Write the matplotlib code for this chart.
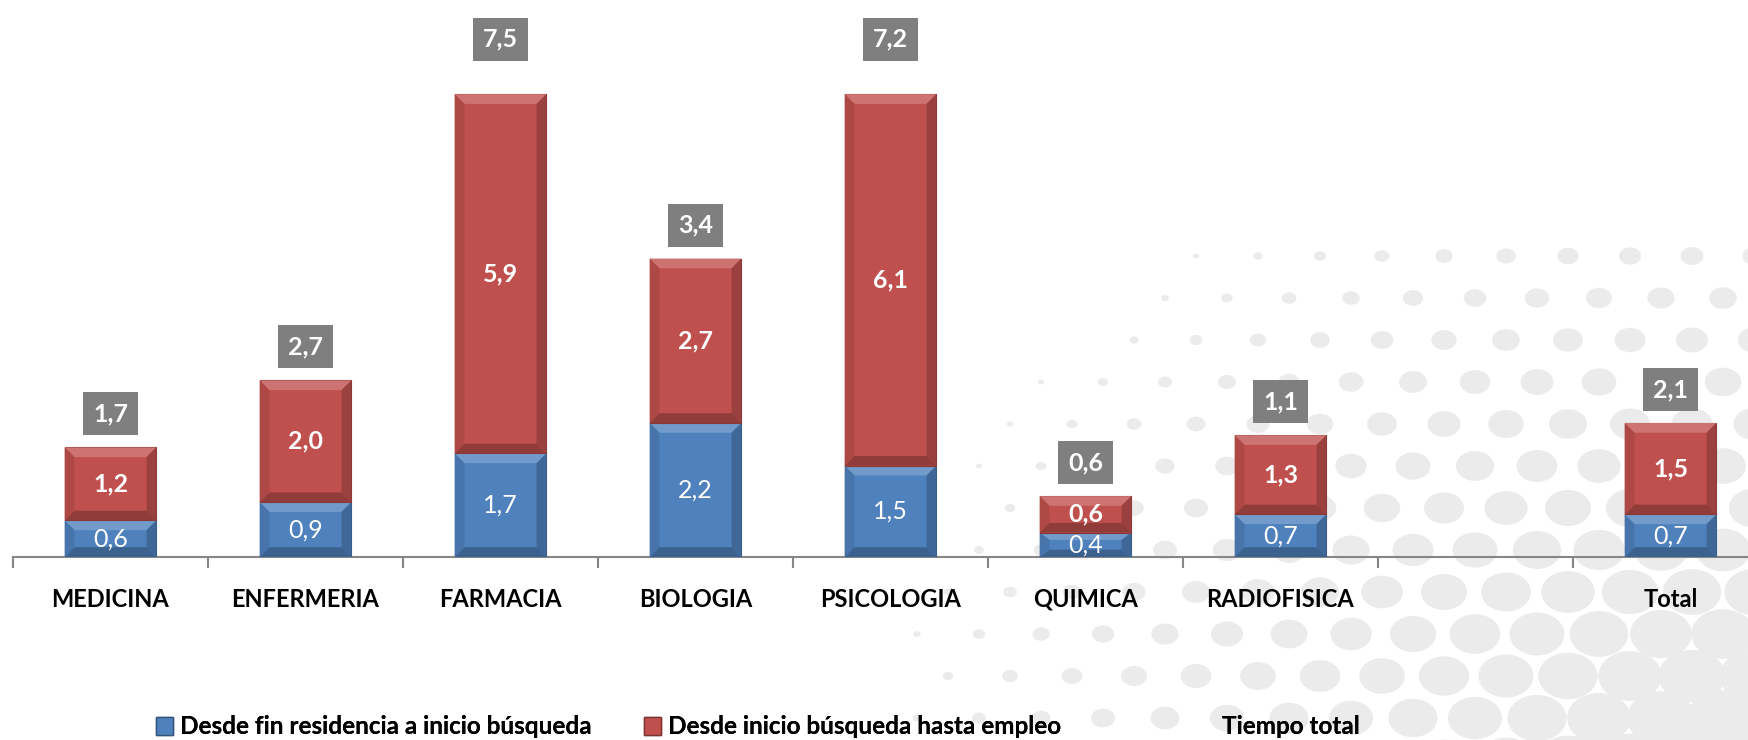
"""Stacked bars: tiempo hasta empleo por especialidad."""

import numpy as np
import matplotlib.pyplot as plt
from matplotlib.patches import Polygon, Rectangle, Ellipse, Patch
from matplotlib import colors as mcolors

plt.rcParams['font.family'] = ['Lato', 'DejaVu Sans']

categorias = ['MEDICINA', 'ENFERMERIA', 'FARMACIA', 'BIOLOGIA', 'PSICOLOGIA',
              'QUIMICA', 'RADIOFISICA', '', 'Total']
fin_residencia = [0.6, 0.9, 1.7, 2.2, 1.5, 0.4, 0.7, np.nan, 0.7]
inicio_busqueda = [1.2, 2.0, 5.9, 2.7, 6.1, 0.6, 1.3, np.nan, 1.5]
tiempo_total = [1.7, 2.7, 7.5, 3.4, 7.2, 0.6, 1.1, np.nan, 2.1]

series_names = ['Desde fin residencia a inicio búsqueda',
                'Desde inicio búsqueda hasta empleo',
                'Tiempo total']

BLUE = '#4f81bd'
RED = '#c0504d'
GREY = '#7f7f7f'


def shade(color, f):
    c = np.array(mcolors.to_rgb(color))
    if f > 0:
        return tuple(c + (1 - c) * f)
    return tuple(c * (1 + f))


def bevel_bar(ax, x, bottom, height, width, color):
    """Draw one bar segment with a simple bevelled look."""
    x0, x1 = x - width / 2, x + width / 2
    y0, y1 = bottom, bottom + height
    dx, dy = 0.05, min(0.16, height * 0.3)
    ax.add_patch(Rectangle((x0, y0), width, height, facecolor=color,
                           edgecolor=shade(color, -0.3), lw=0.8, zorder=3))
    ax.add_patch(Polygon([(x0, y1), (x1, y1), (x1 - dx, y1 - dy),
                          (x0 + dx, y1 - dy)], closed=True,
                         facecolor=shade(color, 0.2), lw=0, zorder=3))
    ax.add_patch(Polygon([(x0, y0), (x1, y0), (x1 - dx, y0 + dy),
                          (x0 + dx, y0 + dy)], closed=True,
                         facecolor=shade(color, -0.25), lw=0, zorder=3))
    ax.add_patch(Polygon([(x0, y0), (x0, y1), (x0 + dx, y1 - dy),
                          (x0 + dx, y0 + dy)], closed=True,
                         facecolor=shade(color, -0.1), lw=0, zorder=3))
    ax.add_patch(Polygon([(x1, y0), (x1, y1), (x1 - dx, y1 - dy),
                          (x1 - dx, y0 + dy)], closed=True,
                         facecolor=shade(color, -0.2), lw=0, zorder=3))


W, H = 1748, 740
fig = plt.figure(figsize=(W / 100, H / 100), dpi=100)
fig.patch.set_facecolor('white')

# decorative halftone dots in the lower right corner, on a background axes
bg = fig.add_axes([0, 0, 1, 1], zorder=-1)
bg.set_xlim(0, W)
bg.set_ylim(H, 0)
bg.axis('off')
for j, yy in enumerate(np.arange(H + 20, 250, -42)):
    off = 31 if j % 2 else 0
    for xx in np.arange(700 + off, W + 60, 62):
        d = np.hypot(xx - 1760, (yy - 770) * 1.3)
        r = 34 * (1 - d / 950)
        if r < 2.5:
            continue
        bg.add_patch(Ellipse((xx, yy), 2.3 * r, 1.8 * r,
                             facecolor='#ebebeb', lw=0))

ax = fig.add_axes([13 / W, 183 / H, 1755 / W, 542 / H])
ax.patch.set_alpha(0)

x = np.arange(len(categorias))
width = 0.47
blue = np.array(fin_residencia)
red = np.array(inicio_busqueda)
total = np.array(tiempo_total)

for i in x:
    if np.isnan(blue[i]):
        continue
    bevel_bar(ax, i, 0, blue[i], width, BLUE)
    bevel_bar(ax, i, blue[i], red[i], width, RED)
    ax.text(i, blue[i] / 2, f'{blue[i]:.1f}'.replace('.', ','), ha='center',
            va='center', color='white', fontsize=18, zorder=5)
    ax.text(i, blue[i] + red[i] / 2, f'{red[i]:.1f}'.replace('.', ','),
            ha='center', va='center', color='white', fontsize=18,
            fontweight='bold', zorder=5)
    top = blue[i] + red[i]
    ylab = 8.5 if top > 7 else top + 0.55
    ax.text(i, ylab, f'{total[i]:.1f}'.replace('.', ','), ha='center',
            va='center', color='white', fontsize=18, fontweight='bold',
            zorder=5, bbox=dict(boxstyle='square,pad=0.4', facecolor=GREY,
                                edgecolor='none'))

ax.set_xlim(-0.5, len(categorias) - 0.5)
ax.set_ylim(0, 8.9)
ax.set_xticks(x)
ax.set_xticklabels(categorias, fontsize=17, fontweight='bold')
ax.set_xticks(np.arange(-0.5, len(categorias), 1), minor=True)
ax.tick_params(axis='x', which='major', length=0, pad=22)
ax.tick_params(axis='x', which='minor', length=8, color='#868686', width=1.5)
ax.set_yticks([])
for s in ['top', 'right', 'left']:
    ax.spines[s].set_visible(False)
ax.spines['bottom'].set_color('#868686')
ax.spines['bottom'].set_linewidth(1.5)

# one small legend per series, placed like the original
handles = [Patch(facecolor=BLUE, edgecolor=shade(BLUE, -0.35)),
           Patch(facecolor=RED, edgecolor=shade(RED, -0.35)),
           Patch(facecolor='none', edgecolor='none')]
legend_x = [156, 644, 1198]
for h, name, lx in zip(handles, series_names, legend_x):
    leg = fig.legend([h], [name], loc='center left',
                     bbox_to_anchor=(lx / W, 13 / H), frameon=False,
                     borderpad=0, borderaxespad=0,
                     prop={'weight': 'bold', 'size': 17.5}, handlelength=0.7,
                     handleheight=0.7, handletextpad=0.3)
    fig.add_artist(leg)

fig.savefig('out.png', dpi=100)
